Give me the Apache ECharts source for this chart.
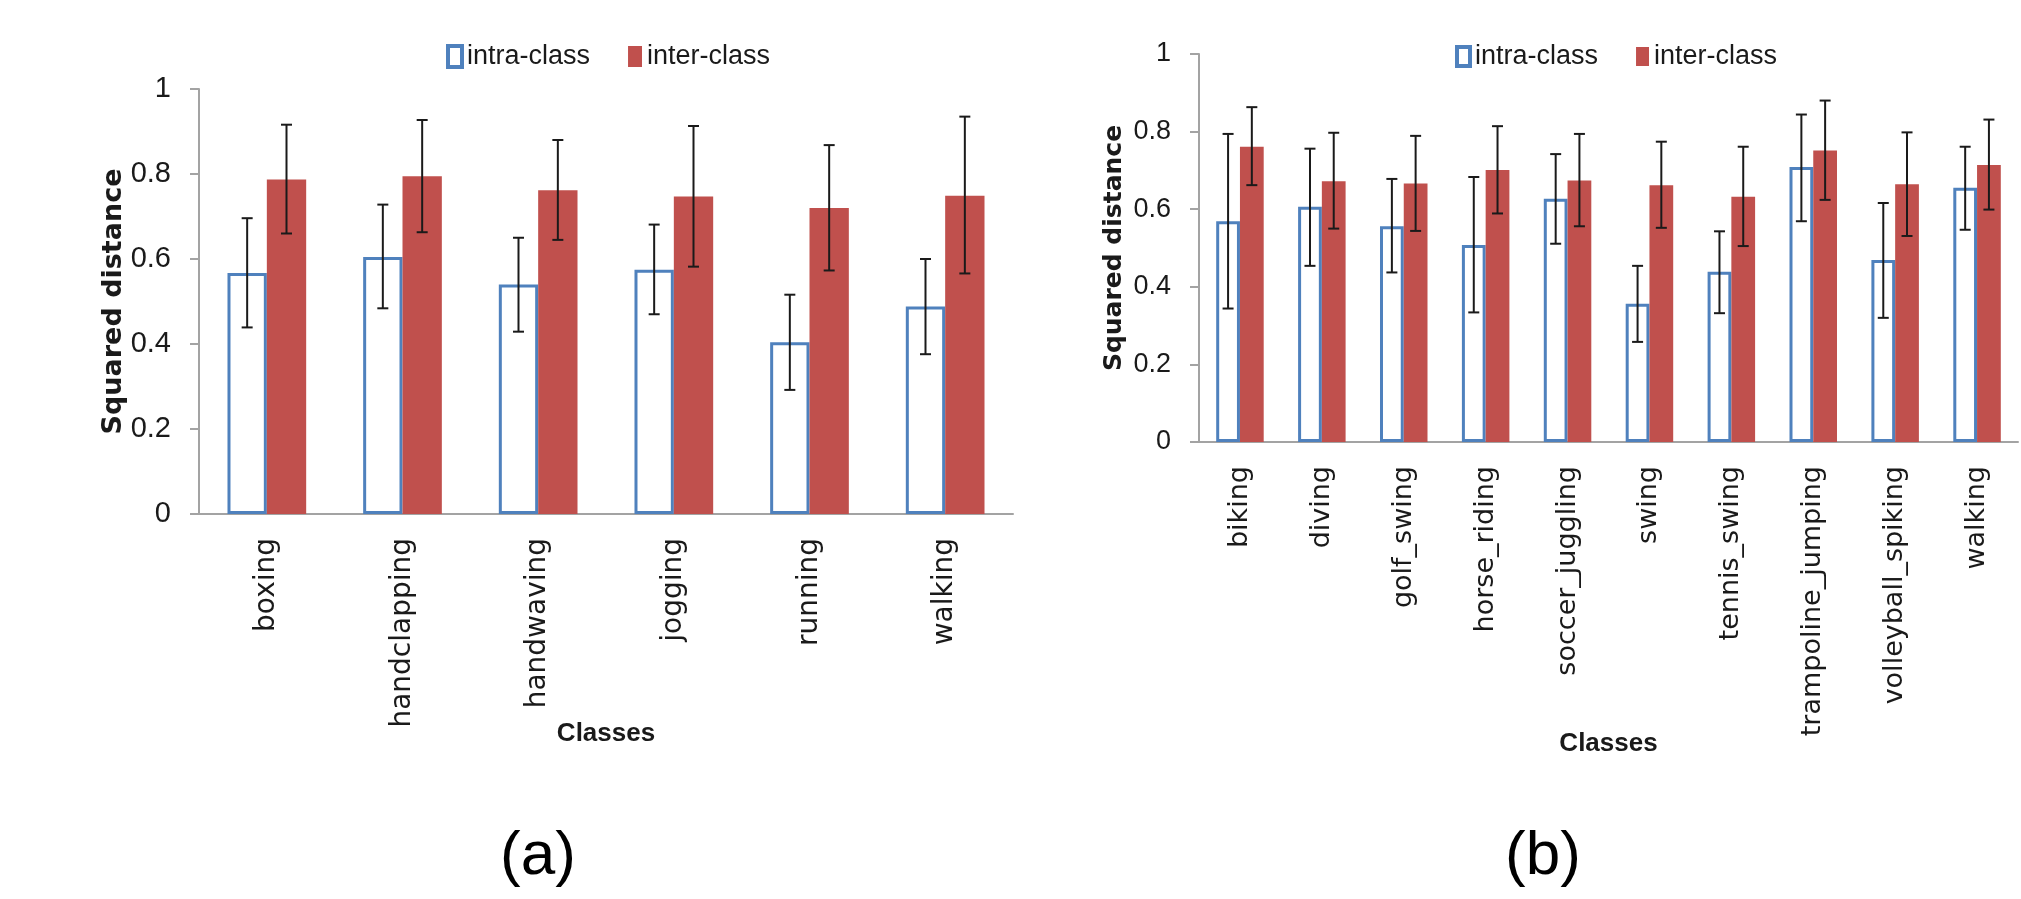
<!DOCTYPE html>
<html>
<head>
<meta charset="utf-8">
<script src="https://cdn.jsdelivr.net/npm/echarts@6/dist/echarts.min.js"></script>
<style>
html,body{margin:0;padding:0;background:#fff;}
#chart{width:2021px;height:899px;}
</style>
</head>
<body>
<div id="chart"></div>
<script>
// ---------- data: chart (a) ----------
const catsA = ['boxing', 'handclapping', 'handwaving', 'jogging', 'running', 'walking'];
const intraA     = [0.567, 0.605, 0.540, 0.575, 0.404, 0.488];
const intraLowA  = [0.439, 0.484, 0.429, 0.470, 0.292, 0.376];
const intraHighA = [0.696, 0.728, 0.650, 0.681, 0.516, 0.600];
const interA     = [0.787, 0.795, 0.762, 0.747, 0.720, 0.749];
const interLowA  = [0.660, 0.663, 0.645, 0.582, 0.573, 0.566];
const interHighA = [0.916, 0.927, 0.880, 0.913, 0.868, 0.935];

// ---------- data: chart (b) ----------
const catsB = ['biking', 'diving', 'golf_swing', 'horse_riding', 'soccer_juggling', 'swing',
               'tennis_swing', 'trampoline_jumping', 'volleyball_spiking', 'walking'];
const intraB     = [0.569, 0.606, 0.556, 0.508, 0.627, 0.356, 0.439, 0.709, 0.469, 0.655];
const intraLowB  = [0.344, 0.454, 0.437, 0.334, 0.511, 0.258, 0.332, 0.569, 0.320, 0.547];
const intraHighB = [0.794, 0.756, 0.678, 0.683, 0.742, 0.454, 0.543, 0.844, 0.616, 0.761];
const interB     = [0.761, 0.672, 0.666, 0.701, 0.674, 0.662, 0.632, 0.751, 0.664, 0.714];
const interLowB  = [0.662, 0.550, 0.544, 0.589, 0.556, 0.552, 0.505, 0.624, 0.531, 0.599];
const interHighB = [0.863, 0.797, 0.789, 0.814, 0.794, 0.774, 0.761, 0.880, 0.798, 0.831];

const yTicks = [0, 0.2, 0.4, 0.6, 0.8, 1];
const seriesNames = ['intra-class', 'inter-class'];
const captions = ['(a)', '(b)'];
const xTitle = 'Classes';
const yTitle = 'Squared distance';

// ---------- style ----------
const NARROW = "'Liberation Sans Narrow', 'Liberation Sans', Arial, sans-serif";
const WIDE = "'DejaVu Sans', Verdana, sans-serif";
const BLUE = '#4F81BD';
const RED = '#C0504D';
const AXIS = '#a3a3a3';
const CAT_GAP = 0.42;

function errSeries(name, lows, highs, gridIdx, side) {
  return {
    type: 'custom',
    name: name,
    xAxisIndex: gridIdx,
    yAxisIndex: gridIdx,
    z: 5,
    data: lows.map((lo, i) => [i, lo, highs[i]]),
    encode: { x: 0, y: [1, 2] },
    renderItem: function (params, api) {
      const i = api.value(0);
      const lo = api.coord([i, api.value(1)]);
      const hi = api.coord([i, api.value(2)]);
      const band = api.size([1, 0])[0];
      const bw = band * (1 - CAT_GAP) / 2;
      const x = lo[0] + side * bw / 2;
      const cap = 5.5;
      const st = { stroke: '#1a1a1a', lineWidth: 2 };
      return {
        type: 'group',
        children: [
          { type: 'line', shape: { x1: x, y1: hi[1], x2: x, y2: lo[1] }, style: st },
          { type: 'line', shape: { x1: x - cap, y1: hi[1], x2: x + cap, y2: hi[1] }, style: st },
          { type: 'line', shape: { x1: x - cap, y1: lo[1], x2: x + cap, y2: lo[1] }, style: st }
        ]
      };
    }
  };
}

function xAxisCfg(cats, gridIdx, labelSize, nameGap) {
  return {
    type: 'category',
    gridIndex: gridIdx,
    data: cats,
    axisLine: { lineStyle: { color: AXIS, width: 2 } },
    axisTick: { length: 12, lineStyle: { color: AXIS, width: 2 } },
    axisLabel: { rotate: 90, interval: 0, margin: 24, fontFamily: WIDE, fontSize: labelSize, color: '#1a1a1a' },
    name: xTitle,
    nameLocation: 'middle',
    nameGap: nameGap,
    nameMoveOverlap: false,
    nameTextStyle: { fontFamily: NARROW, fontWeight: 'bold', fontSize: 26, color: '#1a1a1a' }
  };
}

function yAxisCfg(gridIdx, labelSize, titleSize) {
  return {
    type: 'value',
    gridIndex: gridIdx,
    min: yTicks[0],
    max: yTicks[yTicks.length - 1],
    interval: 0.2,
    splitLine: { show: false },
    axisLine: { show: true, lineStyle: { color: AXIS, width: 2 } },
    axisTick: { show: true, length: 9, lineStyle: { color: AXIS, width: 2 } },
    axisLabel: { margin: 28, fontFamily: NARROW, fontSize: labelSize, color: '#1a1a1a' },
    name: yTitle,
    nameLocation: 'middle',
    nameGap: 72,
    nameMoveOverlap: false,
    nameTextStyle: { fontFamily: WIDE, fontWeight: 'bold', fontSize: titleSize, color: '#1a1a1a' }
  };
}

function barSeries(gridIdx, intra, inter) {
  return [
    {
      type: 'bar', name: seriesNames[0], xAxisIndex: gridIdx, yAxisIndex: gridIdx,
      data: intra, barGap: '0%', barCategoryGap: (CAT_GAP * 100) + '%',
      itemStyle: { color: '#ffffff', borderColor: BLUE, borderWidth: 3 }
    },
    {
      type: 'bar', name: seriesNames[1], xAxisIndex: gridIdx, yAxisIndex: gridIdx,
      data: inter, barGap: '0%', barCategoryGap: (CAT_GAP * 100) + '%',
      itemStyle: { color: RED }
    }
  ];
}

function legendCfg(left, top, iw, ih) {
  return {
    data: [
      { name: seriesNames[0], icon: 'rect', itemStyle: { color: '#ffffff', borderColor: BLUE, borderWidth: 4 } },
      { name: seriesNames[1], icon: 'rect', itemStyle: { color: RED, borderWidth: 0 } }
    ],
    left: left, top: top, padding: 0, itemGap: 38,
    itemWidth: iw, itemHeight: ih,
    textStyle: { fontFamily: NARROW, fontSize: 27, color: '#1a1a1a' }
  };
}

const chart = echarts.init(document.getElementById('chart'), null, { renderer: 'canvas' });
chart.setOption({
  animation: false,
  backgroundColor: '#ffffff',
  grid: [
    { left: 199, top: 89, width: 814, height: 425 },
    { left: 1199, top: 54, width: 819, height: 388 }
  ],
  legend: [legendCfg(446, 43, 14, 21), legendCfg(1455, 43, 13, 19)],
  xAxis: [xAxisCfg(catsA, 0, 28, 207), xAxisCfg(catsB, 1, 27, 289)],
  yAxis: [yAxisCfg(0, 29, 27), yAxisCfg(1, 27, 25)],
  series: [
    ...barSeries(0, intraA, interA),
    ...barSeries(1, intraB, interB),
    errSeries('intra-err-a', intraLowA, intraHighA, 0, -1),
    errSeries('inter-err-a', interLowA, interHighA, 0, 1),
    errSeries('intra-err-b', intraLowB, intraHighB, 1, -1),
    errSeries('inter-err-b', interLowB, interHighB, 1, 1)
  ],
  graphic: [
    { type: 'text', x: 538, y: 826, style: { text: captions[0], font: '62px ' + NARROW, fill: '#000', textAlign: 'center', textVerticalAlign: 'top' } },
    { type: 'text', x: 1543, y: 826, style: { text: captions[1], font: '62px ' + NARROW, fill: '#000', textAlign: 'center', textVerticalAlign: 'top' } }
  ]
});
</script>
</body>
</html>
